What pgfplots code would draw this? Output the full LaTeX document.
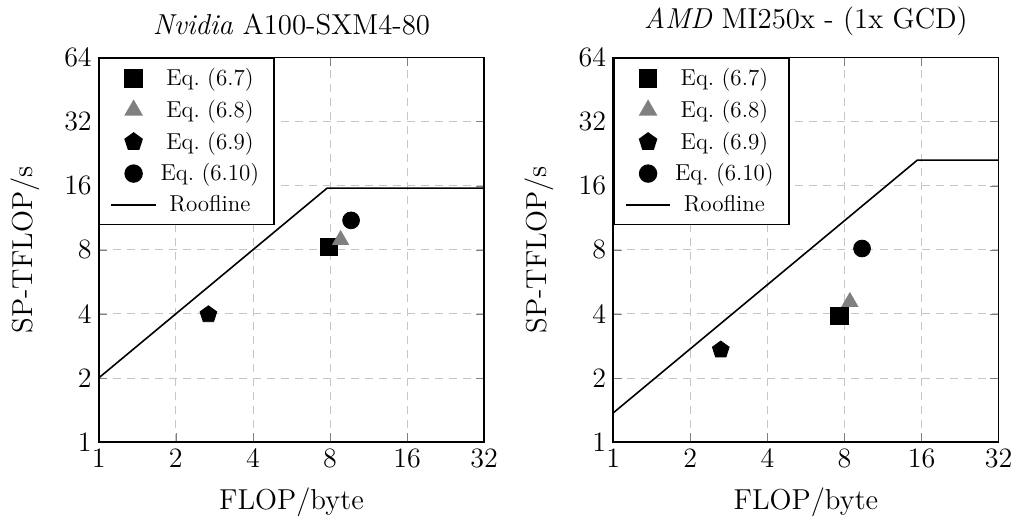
\documentclass[border=0pt]{standalone}
\usepackage{pgfplots}
\pgfplotsset{compat=1.18}
\pgfplotsset{
  every axis/.append style={
    width=192.5pt, height=192pt, scale only axis,
    xmode=log, ymode=log, log basis x=2, log basis y=2,
    xmin=1, xmax=32, ymin=1, ymax=64,
    xtick={1,2,4,8,16,32}, xticklabels={1,2,4,8,16,32},
    ytick={1,2,4,8,16,32,64}, yticklabels={1,2,4,8,16,32,64},
    tick label style={font=\fontsize{14}{17}\selectfont},
    label style={font=\fontsize{14.4}{17}\selectfont},
    title style={font=\fontsize{14.4}{17}\selectfont, yshift=1.5pt},
    grid=major,
    major grid style={dash pattern=on 4pt off 3pt, gray!45},
    axis line style={thick},
    xlabel={FLOP/byte}, ylabel={SP-TFLOP/s},
    legend style={at={(0,1)}, anchor=north west, thick, draw=black,
      font=\fontsize{11.5}{14}\selectfont, inner xsep=5.5pt, inner ysep=3pt, row sep=1.7pt},
    legend cell align=center,
    legend image code/.code={\draw[mark repeat=2,mark phase=2,#1] plot coordinates {(0cm,0cm) (0.39cm,0cm) (0.78cm,0cm)};},
  }
}
\begin{document}
\begin{tikzpicture}
\begin{axis}[
    ylabel style={yshift=5.5pt},
    xlabel style={yshift=-3pt},
    title={\textit{Nvidia} A100-SXM4-80}]
\addplot[only marks, mark=square*, mark size=4.3pt, black] coordinates {(7.95,8.27)};
\addlegendentry{Eq.~(6.7)}
\addplot[only marks, mark=triangle*, mark size=4.6pt, gray, mark options={fill=gray}] coordinates {(8.8,8.9)};
\addlegendentry{Eq.~(6.8)}
\addplot[only marks, mark=pentagon*, mark size=4.4pt, black] coordinates {(2.68,3.97)};
\addlegendentry{Eq.~(6.9)}
\addplot[only marks, mark=*, mark size=4.2pt, black] coordinates {(9.67,11.0)};
\addlegendentry{Eq.~(6.10)}
\addplot[thick, black, no marks] coordinates {(1,2.0) (7.8,15.6) (32,15.6)};
\addlegendentry{Roofline}
\end{axis}
\begin{axis}[
    at={(257pt,0)},
    ylabel style={yshift=5.5pt},
    xlabel style={yshift=-3pt},
    title={\textit{AMD} MI250x - (1x GCD)}]
\addplot[only marks, mark=square*, mark size=4.3pt, black] coordinates {(7.65,3.91)};
\addlegendentry{Eq.~(6.7)}
\addplot[only marks, mark=triangle*, mark size=4.6pt, gray, mark options={fill=gray}] coordinates {(8.4,4.55)};
\addlegendentry{Eq.~(6.8)}
\addplot[only marks, mark=pentagon*, mark size=4.4pt, black] coordinates {(2.63,2.71)};
\addlegendentry{Eq.~(6.9)}
\addplot[only marks, mark=*, mark size=4.2pt, black] coordinates {(9.37,8.11)};
\addlegendentry{Eq.~(6.10)}
\addplot[thick, black, no marks] coordinates {(1,1.37) (15.4,21.1) (32,21.1)};
\addlegendentry{Roofline}
\end{axis}
\path ([xshift=-2pt]current bounding box.west);
\end{tikzpicture}
\end{document}
